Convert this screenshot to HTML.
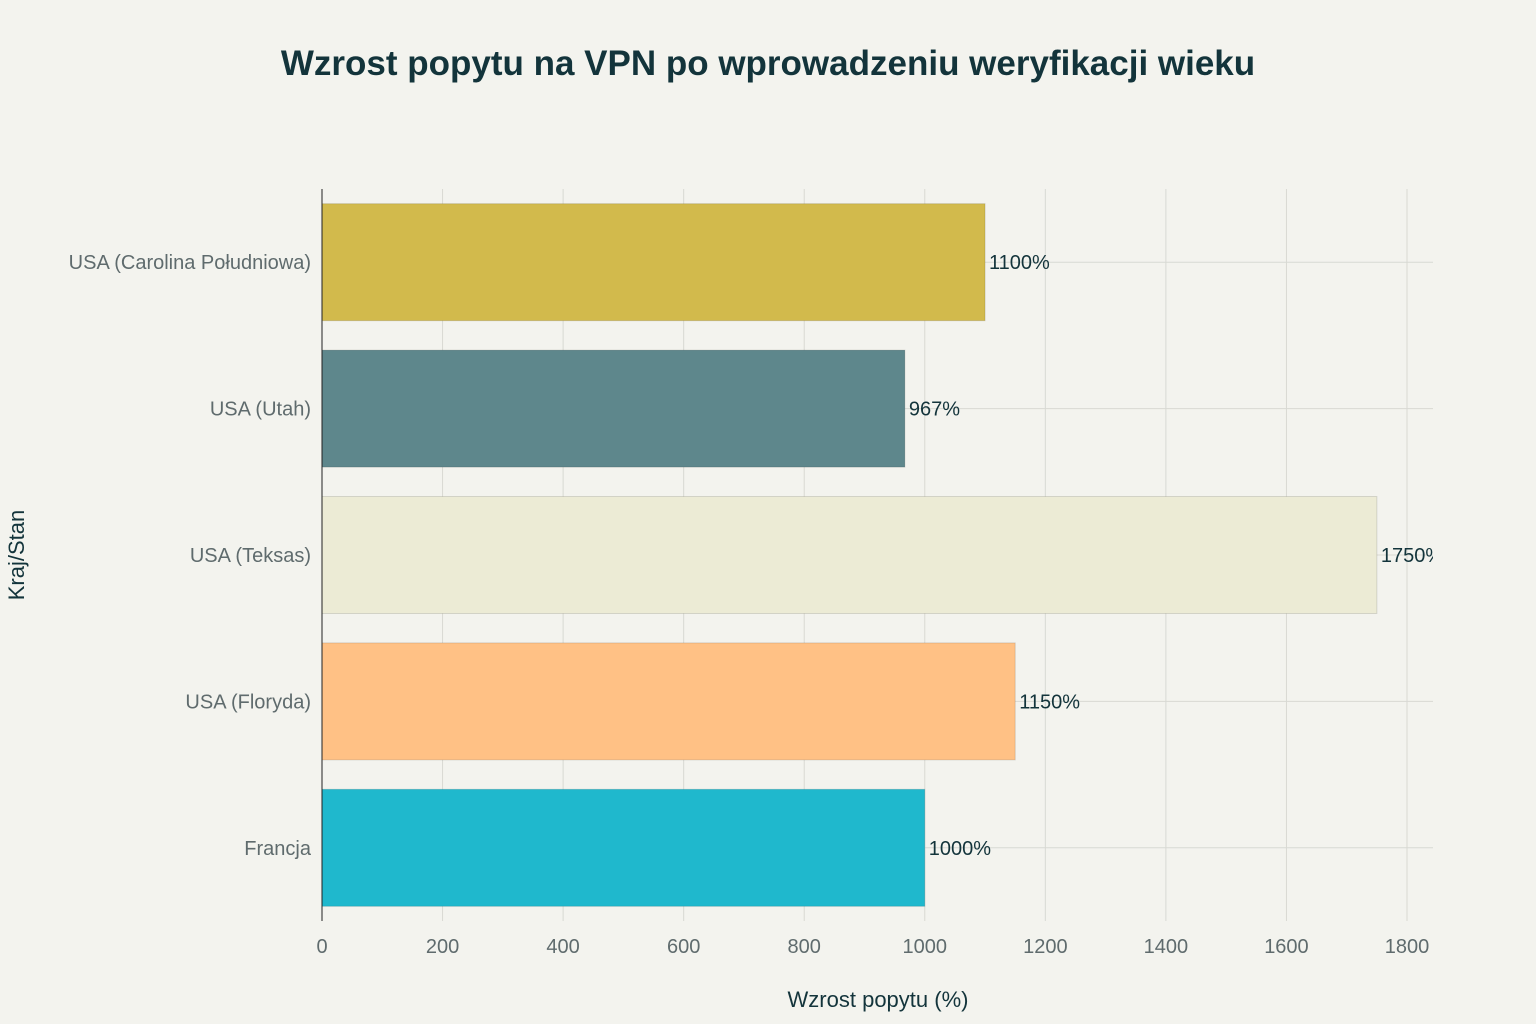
<!DOCTYPE html>
<html><head><meta charset="utf-8">
<style>
html,body{margin:0;padding:0;background:#F3F3EE;}
svg{display:block;font-family:"Liberation Sans",sans-serif;}
</style></head>
<body>
<svg id="chart" width="1536" height="1024" viewBox="0 0 1536 1024">
<rect width="1536" height="1024" fill="#F3F3EE"/>
<text x="768" y="75" text-anchor="middle" font-size="35" font-weight="bold" fill="#13343B">Wzrost popytu na VPN po wprowadzeniu weryfikacji wieku</text>
<g id="grid"></g>
<g id="bars"></g>
<line x1="322" y1="189" x2="322" y2="921" stroke="#222" stroke-width="1"/>
<g id="labels"></g>
<text x="878" y="1007" text-anchor="middle" font-size="22" fill="#13343B">Wzrost popytu (%)</text>
<text transform="translate(24,555) rotate(-90)" text-anchor="middle" font-size="22" fill="#13343B">Kraj/Stan</text>
</svg>
<script>
const categories = ["USA (Carolina Południowa)","USA (Utah)","USA (Teksas)","USA (Floryda)","Francja"];
const values = [1100,967,1750,1150,1000];
const valueLabels = ["1100%","967%","1750%","1150%","1000%"];
const colors = ["#D2BA4C","#5E878C","#ECEBD5","#FFC185","#1FB8CD"];
const xTicks = [0,200,400,600,800,1000,1200,1400,1600,1800];

const NS="http://www.w3.org/2000/svg";
const x0=322, pxPer=(1407-322)/1800, plotTop=189, plotBottom=921, plotRight=1433;
const band=(plotBottom-plotTop)/categories.length;
const xs=v=>x0+v*pxPer;
const yc=i=>plotTop+band*(i+0.5);
const barH=117;
function mk(tag,attrs,parent){const e=document.createElementNS(NS,tag);for(const k in attrs)e.setAttribute(k,attrs[k]);parent.appendChild(e);return e;}
const grid=document.getElementById('grid'),bars=document.getElementById('bars'),labels=document.getElementById('labels');
xTicks.forEach(t=>{
  const l=mk('line',{x1:xs(t),x2:xs(t),y1:plotTop,y2:plotBottom,stroke:'#D8D9D3','stroke-width':1},grid);
  
  
  const tx=mk('text',{x:xs(t),y:953,'text-anchor':'middle','font-size':20,fill:'#5F6B6D'},labels);
  tx.textContent=t;
  
  
});
categories.forEach((c,i)=>{
  const gl=mk('line',{x1:x0,x2:plotRight,y1:yc(i),y2:yc(i),stroke:'#D8D9D3','stroke-width':1},grid);
  
  
  const r=mk('rect',{x:x0,y:yc(i)-barH/2,width:xs(values[i])-x0,height:barH,fill:colors[i],stroke:'rgba(0,0,0,0.12)','stroke-width':1},bars);
  
  
  const yl=mk('text',{x:311,y:yc(i)+7,'text-anchor':'end','font-size':20,fill:'#5F6B6D'},labels);
  yl.textContent=c;
  
  
  const vx=xs(values[i])+4;
  const vl=mk('text',{x:vx,y:yc(i)+7,'font-size':20,fill:'#13343B'},labels);
  vl.textContent=valueLabels[i];
  
  
});
// clip value labels at plot right edge
const defs=mk('defs',{},document.getElementById('chart'));
const cp=mk('clipPath',{id:'clipR'},defs);
mk('rect',{x:0,y:0,width:plotRight,height:1024},cp);
labels.setAttribute('clip-path','url(#clipR)');
</script>
</body></html>
